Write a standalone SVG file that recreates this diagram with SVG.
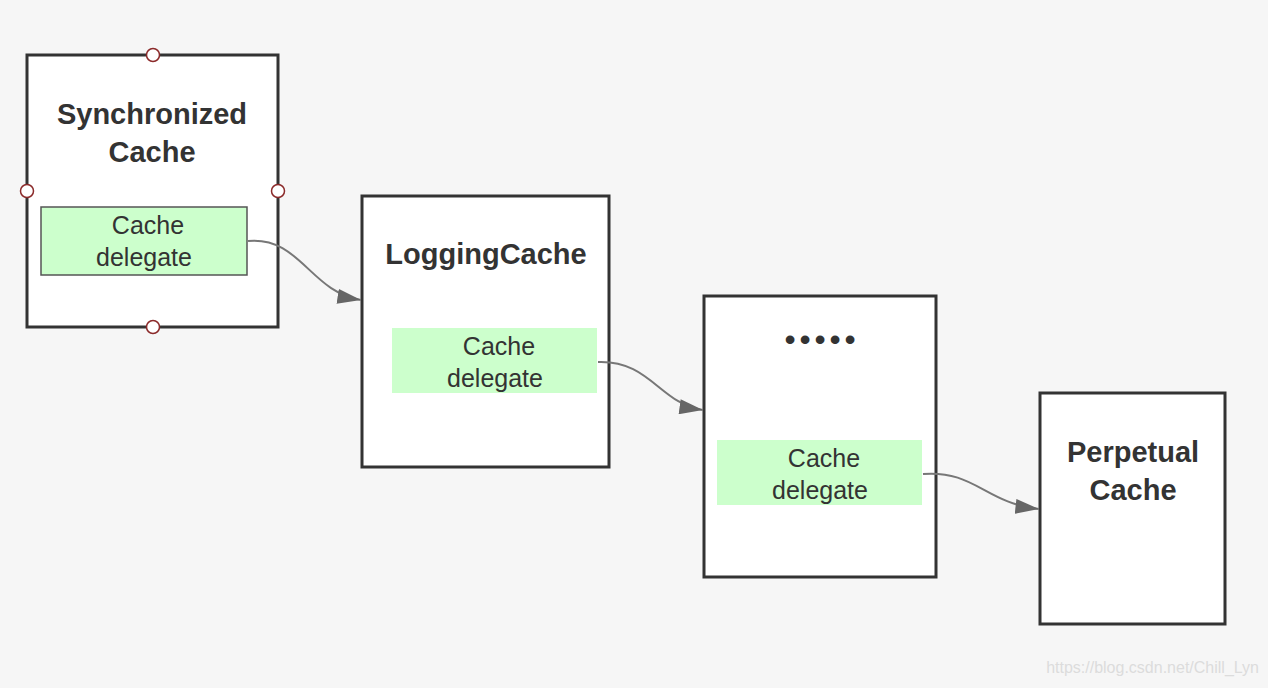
<svg xmlns="http://www.w3.org/2000/svg" width="1268" height="688" viewBox="0 0 1268 688">
<defs>
<style>
.box{fill:#fff;stroke:#333;stroke-width:3}
.title{font-family:"Liberation Sans",Arial,sans-serif;font-weight:bold;font-size:29px;fill:#333;text-anchor:middle}
.del{font-family:"Liberation Sans",Arial,sans-serif;font-size:25px;fill:#333;text-anchor:middle}
.green{fill:#ccffcc}
.handle{fill:#fff;stroke:#8b2a2a;stroke-width:1.5}
.conn{fill:none;stroke:#777;stroke-width:2}
</style>
<marker id="arrow" viewBox="0 0 22 14" refX="22" refY="7" markerWidth="24" markerHeight="15" markerUnits="userSpaceOnUse" orient="auto">
<path d="M0,0 L22,7 L0,14 z" fill="#666"/>
</marker>
</defs>
<rect width="1268" height="688" fill="#f6f6f6"/>
<g id="synchronized-cache">
<rect class="box" x="27" y="55" width="251" height="272"/>
<text class="title" x="152" y="124">Synchronized</text>
<text class="title" x="152" y="162">Cache</text>
<rect class="green" x="41" y="207" width="206" height="68" stroke="#555" stroke-width="1.5"/>
<text class="del" x="148" y="234">Cache</text>
<text class="del" x="144" y="266">delegate</text>
<circle class="handle" cx="153" cy="55" r="6.5"/>
<circle class="handle" cx="27" cy="191" r="6.5"/>
<circle class="handle" cx="278" cy="191" r="6.5"/>
<circle class="handle" cx="153" cy="327" r="6.5"/>
</g>
<g id="logging-cache">
<rect class="box" x="362" y="196" width="247" height="271"/>
<text class="title" x="486" y="264">LoggingCache</text>
<rect class="green" x="392" y="328" width="205" height="65"/>
<text class="del" x="499" y="355">Cache</text>
<text class="del" x="495" y="387">delegate</text>
</g>
<g id="ellipsis-cache">
<rect class="box" x="704" y="296" width="232" height="281"/>
<text x="822" y="350" font-family="'Liberation Sans',Arial,sans-serif" font-size="32" fill="#333" text-anchor="middle" letter-spacing="3.8">•••••</text>
<rect class="green" x="717" y="440" width="205" height="65"/>
<text class="del" x="824" y="467">Cache</text>
<text class="del" x="820" y="499">delegate</text>
</g>
<g id="perpetual-cache">
<rect class="box" x="1040" y="393" width="185" height="231"/>
<text class="title" x="1133" y="462">Perpetual</text>
<text class="title" x="1133" y="500">Cache</text>
</g>
<g id="connectors">
<path class="conn" marker-end="url(#arrow)" d="M248,241 C300,236 310,292 361,300"/>
<path class="conn" marker-end="url(#arrow)" d="M598,362 C650,360 660,404 703,410"/>
<path class="conn" marker-end="url(#arrow)" d="M923,474 C975,470 985,503 1039,509"/>
</g>
<text x="1259" y="673" font-family="'Liberation Sans',Arial,sans-serif" font-size="16" fill="#dcdcdc" text-anchor="end">https://blog.csdn.net/Chill_Lyn</text>
</svg>
